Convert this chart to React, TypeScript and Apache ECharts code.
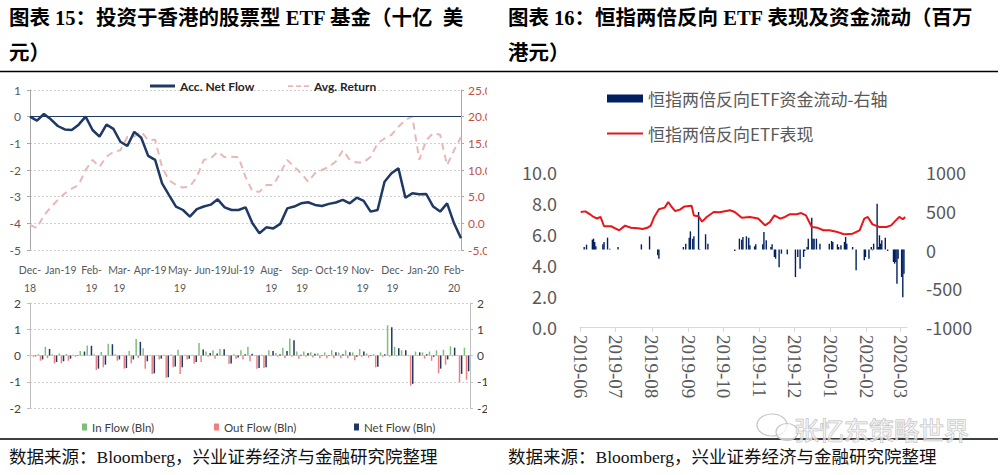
import React, { useEffect, useRef } from "react";
import * as echarts from "echarts";

// ---------- Figure 15 data (weekly) ----------
const weekDates = [
  "2018-12-01", "2018-12-08", "2018-12-15", "2018-12-22", "2018-12-29",
  "2019-01-05", "2019-01-12", "2019-01-19", "2019-01-26",
  "2019-02-02", "2019-02-09", "2019-02-16", "2019-02-23",
  "2019-03-02", "2019-03-09", "2019-03-16", "2019-03-23", "2019-03-30",
  "2019-04-06", "2019-04-13", "2019-04-20", "2019-04-27",
  "2019-05-04", "2019-05-11", "2019-05-18", "2019-05-25",
  "2019-06-01", "2019-06-08", "2019-06-15", "2019-06-22", "2019-06-29",
  "2019-07-06", "2019-07-13", "2019-07-20", "2019-07-27",
  "2019-08-03", "2019-08-10", "2019-08-17", "2019-08-24", "2019-08-31",
  "2019-09-07", "2019-09-14", "2019-09-21", "2019-09-28",
  "2019-10-05", "2019-10-12", "2019-10-19", "2019-10-26",
  "2019-11-02", "2019-11-09", "2019-11-16", "2019-11-23", "2019-11-30",
  "2019-12-07", "2019-12-14", "2019-12-21", "2019-12-28",
  "2020-01-04", "2020-01-11", "2020-01-18", "2020-01-25",
  "2020-02-01", "2020-02-08",
];

const accNetFlow = [
  0, -0.15, 0.1, -0.1, -0.35, -0.48, -0.5, -0.3, 0.0, -0.5,
  -0.75, -0.3, -0.46, -0.94, -1.1, -0.57, -0.79, -1.47, -1.62, -2.5,
  -2.94, -3.37, -3.5, -3.75, -3.47, -3.37, -3.3, -3.1, -3.4, -3.5,
  -3.5, -3.4, -4.0, -4.37, -4.15, -4.19, -4.02, -3.44, -3.37, -3.25,
  -3.21, -3.31, -3.35, -3.27, -3.22, -3.12, -3.25, -3.04, -3.16, -3.56,
  -3.5, -2.44, -2.12, -1.94, -3.04, -2.87, -2.91, -2.9, -3.37, -3.56,
  -3.25, -4.0, -4.56,
];

const avgReturn = [
  -0.3, -0.9, 1.5, 3.0, 4.4, 5.6, 6.5, 7.2, 10.0, 11.9,
  10.6, 12.5, 13.4, 13.7, 16.2, 16.3, 17.2, 15.6, 15.7, 10.5,
  8.1, 7.2, 6.7, 6.9, 8.7, 11.9, 12.2, 13.4, 12.4, 12.5,
  12.4, 8.7, 6.0, 5.9, 7.2, 7.2, 9.4, 11.9, 10.6, 9.4,
  7.8, 9.4, 10.0, 10.6, 11.6, 13.7, 11.9, 11.4, 11.4, 12.5,
  15.0, 15.9, 16.6, 18.1, 19.4, 20.0, 11.9, 15.6, 16.9, 16.6,
  10.9, 13.7, 16.2,
];

const inFlow = [
  0.02, 0.05, 0.33, 0.05, 0.08, 0.06, 0.03, 0.17, 0.38, 0.05,
  0.13, 0.45, 0.05, 0.02, 0.17, 0.63, 0.28, 0.02, 0.02, 0.03,
  0.04, 0.22, 0.03, 0.03, 0.48, 0.15, 0.2, 0.25, 0.02, 0.05,
  0.2, 0.33, 0.02, 0.03, 0.2, 0.1, 0.3, 0.65, 0.15, 0.15,
  0.12, 0.08, 0.12, 0.2, 0.12, 0.2, 0.12, 0.25, 0.08, 0.05,
  0.12, 1.15, 0.33, 0.2, 0.02, 0.15, 0.12, 0.15, 0.2, 0.22,
  0.35, 0.02, 0.3,
];

const outFlow = [
  -0.05, -0.2, -0.1, -0.3, -0.3, -0.2, -0.05, -0.02, -0.01, -0.55,
  -0.45, -0.02, -0.2, -0.5, -0.3, -0.1, -0.5, -0.7, -0.15, -0.85,
  -0.45, -0.7, -0.15, -0.3, -0.25, -0.05, -0.12, -0.02, -0.32, -0.12,
  -0.15, -0.22, -0.5, -0.48, -0.03, -0.05, -0.1, -0.05, -0.12, -0.05,
  -0.08, -0.1, -0.1, -0.1, -0.1, -0.1, -0.18, -0.05, -0.08, -0.45,
  -0.05, -0.05, -0.03, -0.02, -1.15, -0.02, -0.12, -0.2, -0.68, -0.35,
  -0.03, -1.02, -0.92,
];

const netFlow = [
  -0.03, -0.15, 0.25, -0.25, -0.22, -0.12, -0.02, 0.15, 0.37, -0.5,
  -0.35, 0.43, -0.15, -0.48, -0.15, 0.52, -0.22, -0.68, -0.12, -0.83,
  -0.42, -0.45, -0.12, -0.25, 0.23, 0.1, 0.08, 0.24, -0.3, -0.08,
  0.05, 0.07, -0.48, -0.45, 0.17, 0.05, 0.17, 0.58, 0.03, 0.1,
  0.07, -0.02, 0.02, 0.12, 0.05, 0.12, -0.05, 0.15, 0.02, -0.43,
  0.05, 1.08, 0.28, 0.2, -1.08, 0.12, 0.05, -0.05, -0.5, -0.15,
  0.3, -0.7, -0.6,
];

const monthLabels15 = [
  "Dec-\n18", "Jan-19", "Feb-\n19", "Mar-\n19", "Apr-19", "May-\n19", "Jun-19", "Jul-19",
  "Aug-\n19", "Sep-\n19", "Oct-19", "Nov-\n19", "Dec-\n19", "Jan-20", "Feb-\n20",
];

// ---------- Figure 16 data ----------
const etfDates = [
  "2019-06-01", "2019-06-05", "2019-06-09", "2019-06-12", "2019-06-15", "2019-06-18", "2019-06-21", "2019-06-27",
  "2019-07-04", "2019-07-09", "2019-07-14", "2019-07-20", "2019-07-24", "2019-07-28", "2019-07-31",
  "2019-08-03", "2019-08-07", "2019-08-12", "2019-08-15", "2019-08-18", "2019-08-21", "2019-08-25", "2019-08-29",
  "2019-09-04", "2019-09-06", "2019-09-10", "2019-09-13", "2019-09-17", "2019-09-23", "2019-09-28",
  "2019-10-07", "2019-10-11", "2019-10-17", "2019-10-24", "2019-10-31",
  "2019-11-06", "2019-11-10", "2019-11-14", "2019-11-19", "2019-11-23", "2019-11-27",
  "2019-12-03", "2019-12-07", "2019-12-11", "2019-12-16", "2019-12-21", "2019-12-26", "2019-12-31",
  "2020-01-06", "2020-01-12", "2020-01-14", "2020-01-20", "2020-01-26", "2020-01-30",
  "2020-02-02", "2020-02-06", "2020-02-12", "2020-02-18", "2020-02-22", "2020-02-26", "2020-02-29",
  "2020-03-03", "2020-03-05",
];
const etfPerf = [
  7.42, 7.46, 7.27, 7.1, 7.0, 7.1, 6.5, 6.5,
  6.24, 6.54, 6.4, 6.37, 6.32, 6.4, 6.54,
  7.1, 7.6, 7.7, 8.06, 7.74, 7.48, 7.57, 7.78,
  7.83, 7.2, 7.14, 6.8, 7.1, 7.42, 7.4,
  7.53, 7.42, 7.05, 7.1, 7.0,
  6.56, 6.77, 7.2, 6.99, 7.1, 7.27,
  7.27, 7.35, 7.2, 6.45, 6.4, 6.24, 6.24,
  6.15, 6.0, 5.98, 6.02, 6.24, 6.99,
  7.1, 6.62, 6.45, 6.45, 6.56, 6.88, 7.1,
  6.95, 7.1,
];

const flowDates = [
  "2019-06-04", "2019-06-06", "2019-06-11", "2019-06-12", "2019-06-13", "2019-06-14", "2019-06-20", "2019-06-21",
  "2019-06-24", "2019-06-26", "2019-07-03", "2019-07-23", "2019-07-30", "2019-08-06", "2019-08-07",
  "2019-08-28", "2019-08-30", "2019-09-02", "2019-09-03", "2019-09-05", "2019-09-06", "2019-09-10", "2019-09-11",
  "2019-09-16", "2019-09-18", "2019-10-11", "2019-10-15", "2019-10-17", "2019-10-18", "2019-10-21", "2019-10-23",
  "2019-10-24", "2019-10-28", "2019-10-29", "2019-11-04", "2019-11-05", "2019-11-07", "2019-11-11", "2019-11-12",
  "2019-11-14", "2019-11-15", "2019-11-18", "2019-11-20", "2019-11-25", "2019-12-02", "2019-12-04", "2019-12-06",
  "2019-12-09", "2019-12-10", "2019-12-12", "2019-12-13", "2019-12-16", "2019-12-17", "2019-12-18", "2019-12-20",
  "2019-12-23", "2019-12-31", "2020-01-02", "2020-01-03", "2020-01-07", "2020-01-08", "2020-01-10", "2020-01-13",
  "2020-01-14", "2020-01-15", "2020-01-20", "2020-01-23", "2020-01-30", "2020-01-31", "2020-02-03", "2020-02-05",
  "2020-02-06", "2020-02-07", "2020-02-10", "2020-02-11", "2020-02-12", "2020-02-13", "2020-02-14", "2020-02-17",
  "2020-02-19", "2020-02-24", "2020-02-25", "2020-02-26", "2020-02-27", "2020-02-28", "2020-03-02", "2020-03-03",
  "2020-03-04",
];
const flowValues = [
  32, 62, 127, 140, 97, 41, 67, 97,
  153, 11, 32, 67, 170, -75, -118,
  32, 75, 153, 234, 140, 170, 484, 5,
  196, 75, -19, 140, 127, 161, 170, 153,
  54, 41, 67, 67, 226, 118, 32, 67,
  -97, -118, -228, -54, -62, -355, -97, -247,
  -97, -19, 32, 140, 410, 140, 140, 140,
  75, 75, 110, 97, 67, 32, 54, 97,
  161, 75, 32, -269, -140, -97, -118, 32,
  -11, 75, 591, 32, 183, 75, 118, 153,
  -19, -161, -183, -161, -443, -118, -355, -615,
  -312,
];

const title15 = ["图表 15：投资于香港的股票型 ETF 基金（十亿  美", "元）"];
const title16 = ["图表 16：恒指两倍反向 ETF 表现及资金流动（百万", "港元）"];
const sourceText = "数据来源：Bloomberg，兴业证券经济与金融研究院整理";
const watermarkText = "张忆东策略世界";

const DAY = 86400000;
const leftFont = "'Liberation Sans Narrow', Lato, sans-serif";
const cjkFont = "'Noto Sans CJK SC', sans-serif";
const mixedFont = "'Liberation Serif', 'Noto Sans CJK SC', serif";

// legend icon shapes (solid thick line, dashed line)
const solidLineIcon = "path://M0,0H25V3H0Z";
const dashedLineIcon = "path://M0,0H6V2H0Z M9,0H15V2H9Z M18,0H24V2H18Z";

function toTime(s: string) {
  return new Date(s + "T00:00:00").getTime();
}

function buildOption() {
  const gridLine = { lineStyle: { color: "#d0d0d0", type: [2, 2] as any, width: 1 } };
  const axisGray = { show: true, lineStyle: { color: "#a6a6a6" } };
  const tickGray = { show: true, length: 3, lineStyle: { color: "#a6a6a6" } };

  return {
    animation: false,
    backgroundColor: "#ffffff",
    grid: [
      { left: 30, top: 90, width: 431, height: 160, outerBoundsMode: "none", containLabel: false },
      { left: 30, top: 303, width: 440, height: 105, outerBoundsMode: "none", containLabel: false },
      { left: 580, top: 172, width: 327, height: 155, outerBoundsMode: "none", containLabel: false },
    ],
    xAxis: [
      {
        type: "time",
        gridIndex: 0,
        min: toTime(weekDates[0]),
        max: toTime(weekDates[weekDates.length - 1]),
        minInterval: 31 * DAY,
        maxInterval: 31 * DAY,
        axisLine: { show: false },
        axisTick: { show: false },
        splitLine: { show: false },
        axisLabel: {
          formatter: (v: number) => {
            const d = new Date(v);
            const idx = (d.getFullYear() - 2018) * 12 + d.getMonth() - 11;
            return monthLabels15[idx] ?? "";
          },
          fontSize: 10.5,
          lineHeight: 18,
          color: "#595959",
          fontFamily: leftFont,
          margin: 11,
          showMaxLabel: false,
        },
      },
      {
        type: "category",
        gridIndex: 1,
        data: weekDates,
        axisLine: { onZero: true, lineStyle: { color: "#d9d9d9" } },
        axisTick: { show: false },
        axisLabel: { show: false },
        splitLine: { show: false },
      },
      {
        type: "time",
        gridIndex: 2,
        min: toTime("2019-06-01"),
        max: toTime("2020-03-06"),
        minInterval: 31 * DAY,
        maxInterval: 31 * DAY,
        axisLine: { show: true, onZero: false, lineStyle: { color: "#d9d9d9" } },
        axisTick: { show: true, length: 5, lineStyle: { color: "#d9d9d9" } },
        splitLine: { show: false },
        axisLabel: {
          rotate: -90,
          formatter: "{yyyy}-{MM}",
          fontFamily: "'Liberation Serif', serif",
          fontSize: 19,
          color: "#595959",
          margin: 8,
          showMaxLabel: false,
        },
      },
    ],
    yAxis: [
      {
        type: "value", gridIndex: 0, position: "left", min: -5, max: 1, interval: 1,
        axisLine: axisGray, axisTick: tickGray, splitLine: gridLine,
        axisLabel: { fontSize: 12, color: "#595959", margin: 9, fontFamily: leftFont },
      },
      {
        type: "value", gridIndex: 0, position: "right", min: -5, max: 25, interval: 5,
        axisLine: { show: true, lineStyle: { color: "#d99694" } },
        axisTick: { show: true, length: 3, lineStyle: { color: "#d99694" } },
        splitLine: { show: false },
        axisLabel: { fontSize: 12, color: "#c0504d", margin: 7, fontFamily: leftFont, formatter: (v: number) => v.toFixed(1) },
      },
      {
        type: "value", gridIndex: 1, position: "left", min: -2, max: 2, interval: 1,
        axisLine: { show: true, lineStyle: { color: "#bfbfbf" } },
        axisTick: { show: true, length: 3, lineStyle: { color: "#bfbfbf" } },
        splitLine: gridLine,
        axisLabel: { fontSize: 12, color: "#404040", margin: 9, fontFamily: leftFont },
      },
      {
        type: "value", gridIndex: 1, position: "right", min: -2, max: 2, interval: 1,
        axisLine: { show: true, lineStyle: { color: "#bfbfbf" } },
        axisTick: { show: true, length: 3, lineStyle: { color: "#bfbfbf" } },
        splitLine: { show: false },
        axisLabel: { fontSize: 12, color: "#404040", margin: 7, fontFamily: leftFont },
      },
      {
        type: "value", gridIndex: 2, position: "left", min: 0, max: 10, interval: 2,
        axisLine: { show: false }, axisTick: { show: false }, splitLine: { show: false },
        axisLabel: { fontSize: 18, color: "#595959", margin: 23, fontFamily: cjkFont, formatter: (v: number) => v.toFixed(1) },
      },
      {
        type: "value", gridIndex: 2, position: "right", min: -1000, max: 1000, interval: 500,
        axisLine: { show: false }, axisTick: { show: false }, splitLine: { show: false },
        axisLabel: { fontSize: 18, color: "#595959", margin: 19, fontFamily: cjkFont, formatter: (v: number) => String(v) },
      },
    ],
    legend: [
      {
        data: [{ name: "Acc. Net Flow", icon: solidLineIcon }], left: 150, top: 80, padding: 0, itemGap: 0, selectedMode: false,
        itemWidth: 25, itemHeight: 3,
        textStyle: { fontSize: 12, fontWeight: "bold", color: "#262626", fontFamily: leftFont },
      },
      {
        data: [{ name: "Avg. Return", icon: dashedLineIcon }], left: 288, top: 80, padding: 0, itemGap: 0, selectedMode: false,
        itemWidth: 21, itemHeight: 2,
        textStyle: { fontSize: 12, fontWeight: "bold", color: "#262626", fontFamily: leftFont },
      },
      {
        data: ["In Flow (Bln)"], left: 82, top: 421, padding: 0, itemGap: 0, selectedMode: false,
        icon: "rect", itemWidth: 5, itemHeight: 7,
        textStyle: { fontSize: 11.5, color: "#404040", fontFamily: leftFont },
      },
      {
        data: ["Out Flow (Bln)"], left: 214, top: 421, padding: 0, itemGap: 0, selectedMode: false,
        icon: "rect", itemWidth: 5, itemHeight: 7,
        textStyle: { fontSize: 11.5, color: "#404040", fontFamily: leftFont },
      },
      {
        data: ["Net Flow (Bln)"], left: 354, top: 421, padding: 0, itemGap: 0, selectedMode: false,
        icon: "rect", itemWidth: 5, itemHeight: 7,
        textStyle: { fontSize: 11.5, color: "#404040", fontFamily: leftFont },
      },
      {
        data: ["恒指两倍反向ETF资金流动-右轴"], left: 607, top: 90, padding: 0, itemGap: 0, selectedMode: false,
        icon: "rect", itemWidth: 36, itemHeight: 8,
        textStyle: { fontSize: 17, color: "#595959", fontFamily: cjkFont },
      },
      {
        data: ["恒指两倍反向ETF表现"], left: 607, top: 125, padding: 0, itemGap: 0, selectedMode: false,
        icon: "rect", itemWidth: 36, itemHeight: 2,
        textStyle: { fontSize: 17, color: "#595959", fontFamily: cjkFont },
      },
    ],
    series: [
      {
        name: "Avg. Return", type: "line", xAxisIndex: 0, yAxisIndex: 1,
        data: weekDates.map((d, i) => [d, avgReturn[i]]),
        symbol: "none", showSymbol: false,
        lineStyle: { color: "#e6b9b8", width: 2, type: [7, 5] },
        itemStyle: { color: "#e6b9b8" },
        z: 2,
      },
      {
        name: "Acc. Net Flow", type: "line", xAxisIndex: 0, yAxisIndex: 0,
        data: weekDates.map((d, i) => [d, accNetFlow[i]]),
        symbol: "none", showSymbol: false,
        lineStyle: { color: "#1f3864", width: 2.5 },
        itemStyle: { color: "#1f3864" },
        z: 3,
        markLine: {
          silent: true, symbol: ["none", "none"], label: { show: false },
          lineStyle: { color: "#1f3864", width: 1, type: "solid" },
          data: [{ yAxis: 0 }],
        },
      },
      {
        name: "In Flow (Bln)", type: "bar", xAxisIndex: 1, yAxisIndex: 2,
        data: inFlow, barWidth: 1.5, barGap: "40%", itemStyle: { color: "#7cc07c" },
      },
      {
        name: "Out Flow (Bln)", type: "bar", xAxisIndex: 1, yAxisIndex: 2,
        data: outFlow, barWidth: 1.5, barGap: "40%", itemStyle: { color: "#f08080" },
      },
      {
        name: "Net Flow (Bln)", type: "bar", xAxisIndex: 1, yAxisIndex: 2,
        data: netFlow, barWidth: 1.5, barGap: "40%", itemStyle: { color: "#1f3864" },
      },
      {
        name: "恒指两倍反向ETF资金流动-右轴", type: "bar", xAxisIndex: 2, yAxisIndex: 5,
        data: flowDates.map((d, i) => [d, flowValues[i]]),
        barWidth: 1.4, itemStyle: { color: "#002060" },
      },
      {
        name: "恒指两倍反向ETF表现", type: "line", xAxisIndex: 2, yAxisIndex: 4,
        data: etfDates.map((d, i) => [d, etfPerf[i]]),
        symbol: "none", showSymbol: false,
        lineStyle: { color: "#e8161b", width: 2 },
        itemStyle: { color: "#e8161b" },
        z: 3,
      },
    ],
    graphic: {
      elements: [
        { type: "rect", z: 100, shape: { x: 487, y: 74, width: 18, height: 362 }, style: { fill: "#ffffff" } },
        {
          type: "text", z: 101, x: 9, y: 18,
          style: { text: title15[0], fontSize: 20.5, fontWeight: "bold", fontFamily: mixedFont, fill: "#000", verticalAlign: "middle" },
        },
        {
          type: "text", z: 101, x: 9, y: 53,
          style: { text: title15[1], fontSize: 20.5, fontWeight: "bold", fontFamily: mixedFont, fill: "#000", verticalAlign: "middle" },
        },
        {
          type: "text", z: 101, x: 508, y: 18,
          style: { text: title16[0], fontSize: 20.5, fontWeight: "bold", fontFamily: mixedFont, fill: "#000", verticalAlign: "middle" },
        },
        {
          type: "text", z: 101, x: 508, y: 53,
          style: { text: title16[1], fontSize: 20.5, fontWeight: "bold", fontFamily: mixedFont, fill: "#000", verticalAlign: "middle" },
        },
        { type: "line", z: 101, shape: { x1: 0, y1: 71.5, x2: 998, y2: 71.5 }, style: { stroke: "#000", lineWidth: 1.3 } },
        { type: "line", z: 101, shape: { x1: 0, y1: 439, x2: 998, y2: 439 }, style: { stroke: "#000", lineWidth: 1.3 } },
        {
          type: "text", z: 101, x: 9, y: 457,
          style: { text: sourceText, fontSize: 17.5, fontFamily: mixedFont, fill: "#111", verticalAlign: "middle" },
        },
        {
          type: "text", z: 101, x: 508, y: 457,
          style: { text: sourceText, fontSize: 17.5, fontFamily: mixedFont, fill: "#111", verticalAlign: "middle" },
        },
        { type: "ellipse", z: 102, shape: { cx: 772, cy: 425, rx: 15, ry: 11 }, style: { fill: "rgba(255,255,255,0.5)", stroke: "#c4c4c4", lineWidth: 1.2 } },
        { type: "ellipse", z: 103, shape: { cx: 787, cy: 432, rx: 11, ry: 8.5 }, style: { fill: "rgba(255,255,255,0.7)", stroke: "#c4c4c4", lineWidth: 1.2 } },
        {
          type: "text", z: 103, x: 794, y: 429,
          style: { text: watermarkText, fontSize: 25, fontFamily: cjkFont, fill: "rgba(255,255,255,0.55)", stroke: "#bdbdbd", lineWidth: 1, verticalAlign: "middle" },
        },
      ],
    },
  };
}

export default function App() {
  const ref = useRef<HTMLDivElement>(null);
  useEffect(() => {
    if (!ref.current) return;
    const chart = echarts.init(ref.current, null, { renderer: "svg" });
    chart.setOption(buildOption() as any);
    return () => chart.dispose();
  }, []);
  return (
    <div
      ref={ref}
      style={{ position: "absolute", left: 0, top: 0, width: 1002, height: 475, background: "#fff" }}
    />
  );
}
